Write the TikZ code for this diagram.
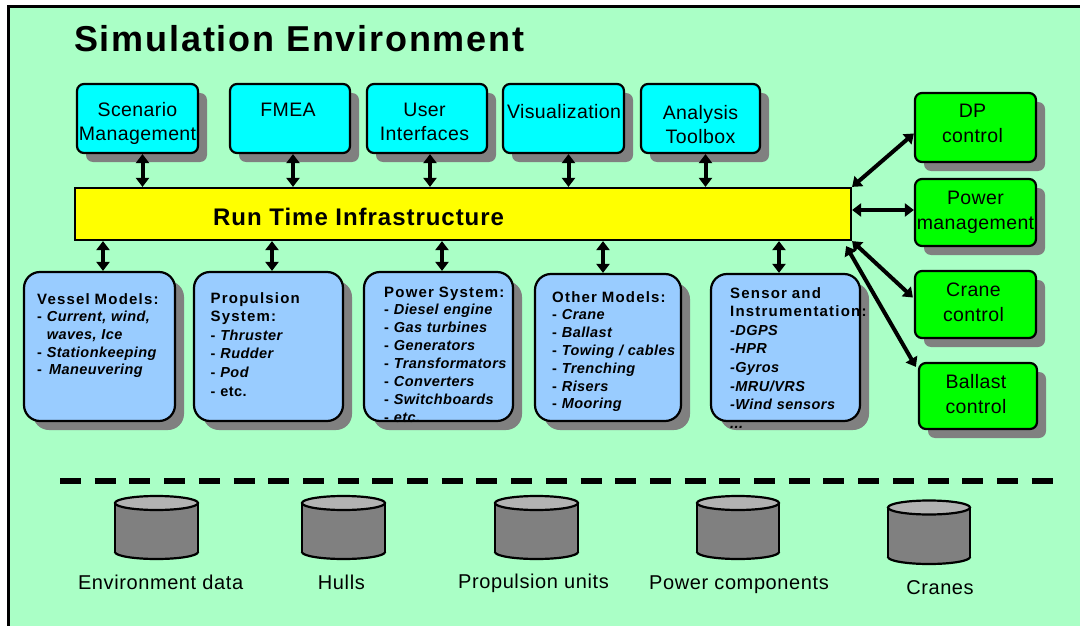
\documentclass[tikz,border=0pt]{standalone}
\usepackage{fontspec}
\setmainfont{Liberation Sans}
\newfontfamily\titlefam[LetterSpace=5]{Liberation Sans}
\newfontfamily\barfam[LetterSpace=4]{Liberation Sans}
\newfontfamily\boxfam[LetterSpace=2]{Liberation Sans}
\newfontfamily\headfam[LetterSpace=8]{Liberation Sans}
\newfontfamily\itemfam[LetterSpace=3]{Liberation Sans}
\usetikzlibrary{arrows.meta,shadows,calc}

\definecolor{mint}{RGB}{170,255,198}
\definecolor{modcyan}{RGB}{0,255,255}
\definecolor{ctrlgreen}{RGB}{0,255,0}
\definecolor{rtiyellow}{RGB}{255,255,0}
\definecolor{modelblue}{RGB}{153,204,255}
\definecolor{shade}{RGB}{128,128,128}
\definecolor{cyltop}{RGB}{178,178,178}
\definecolor{cylbody}{RGB}{128,128,128}

\tikzset{
  boxshadow/.style={drop shadow={shadow xshift=9pt,shadow yshift=-9pt,fill=shade,opacity=1}},
  toolbox/.style={draw,line width=2.2pt,fill=modcyan,rounded corners=7pt,inner sep=0pt,boxshadow},
  ctrlbox/.style={draw,line width=2.2pt,fill=ctrlgreen,rounded corners=7pt,inner sep=0pt,boxshadow},
  modelbox/.style={draw,line width=2.2pt,fill=modelblue,rounded corners=16pt,inner sep=0pt,boxshadow},
  toollabel/.style={anchor=base,inner sep=0pt,text width=160pt,align=center,
    font=\boxfam\fontsize{19.5}{24}\selectfont},
  ctrllabel/.style={inner sep=0pt,text width=160pt,align=center,
    font=\boxfam\fontsize{19.5}{25}\selectfont},
  modeltext/.style={anchor=base west,inner sep=0pt,text width=170pt,align=left,
    font=\itemfam\bfseries\fontsize{14.5}{#1}\selectfont},
  link/.style={{Triangle[width=13pt,length=9pt]}-{Triangle[width=13pt,length=9pt]},line width=4pt},
  storelabel/.style={anchor=base,inner sep=0pt,font=\itemfam\fontsize{20}{24}\selectfont},
}
\newcommand\headf{\headfam\bfseries\fontsize{15}{18}\selectfont}

% data store drawn as a cylinder: centre x, top ellipse y, bottom ellipse y, half width
\newcommand\datastore[4]{%
  \fill[cylbody] (#1-#4,#2) rectangle (#1+#4,#3);
  \begin{scope}
    \clip (#1-#4-3,#3) rectangle (#1+#4+3,#3+12);
    \filldraw[fill=cylbody,draw=black,line width=2.2pt] (#1,#3) ellipse [x radius=#4,y radius=7];
  \end{scope}
  \draw[line width=2.2pt] (#1-#4,#2) -- (#1-#4,#3) (#1+#4,#2) -- (#1+#4,#3);
  \filldraw[fill=cyltop,draw=black,line width=2.2pt] (#1,#2) ellipse [x radius=#4,y radius=7];
}

\begin{document}
\begin{tikzpicture}[x=1pt,y=-1pt]
\useasboundingbox (0,0) rectangle (1080,626);
\fill[white] (0,0) rectangle (1080,626);
\fill[mint] (8,7) rectangle (1080,626);
\draw[line width=3pt] (8,626) -- (8,7) -- (1080,7);

\node[anchor=base west,inner sep=0pt,font=\titlefam\bfseries\fontsize{36}{40}\selectfont]
  (title) at (74,51.6) {Simulation Environment};

% tools above the run time infrastructure
\node[toolbox,minimum width=121pt,minimum height=69pt] (sm) at (137.5,118.5) {};
\node[toolbox,minimum width=120pt,minimum height=69pt] (fmea) at (290,118.5) {};
\node[toolbox,minimum width=120pt,minimum height=69pt] (ui) at (427,118.5) {};
\node[toolbox,minimum width=121pt,minimum height=69pt] (vis) at (563.5,118.5) {};
\node[toolbox,minimum width=119pt,minimum height=69pt] (atb) at (700.5,118.5) {};

\node[toollabel] (smtext) at (137.5,117) {Scenario\\Management};
\node[toollabel] (fmeatext) at (288,117) {FMEA};
\node[toollabel] (uitext) at (424.5,117) {User\\Interfaces};
\node[toollabel] (vistext) at (564,118) {Visualization};
\node[toollabel] (atbtext) at (700.5,120) {Analysis\\Toolbox};

% run time infrastructure bar
\node[draw,line width=2.2pt,fill=rtiyellow,minimum width=776pt,minimum height=52pt,inner sep=0pt]
  (rti) at (463,214) {};
\node[anchor=base west,inner sep=0pt,font=\barfam\bfseries\fontsize{24}{28}\selectfont]
  (rtitext) at (213,225) {Run Time Infrastructure};

% control systems
\node[ctrlbox,minimum width=121pt,minimum height=69pt] (dp) at (975.5,127.5) {};
\node[ctrlbox,minimum width=121pt,minimum height=67pt] (pm) at (975.5,212.5) {};
\node[ctrlbox,minimum width=121pt,minimum height=67pt] (cc) at (975.5,304.5) {};
\node[ctrlbox,minimum width=118pt,minimum height=66pt] (bc) at (978,396) {};

\node[ctrllabel] (dptext) at ($(dp)+(-3,-4)$) {DP\\control};
\node[ctrllabel] (pmtext) at ($(pm)+(0,0)$) {Power\\management};
\node[ctrllabel] (cctext) at ($(cc)+(-2,-2)$) {Crane\\control};
\node[ctrllabel] (bctext) at ($(bc)+(-2,-2)$) {Ballast\\control};

% simulation models
\node[modelbox,minimum width=151pt,minimum height=149pt] (vm) at (99.5,346.5) {};
\node[modelbox,minimum width=149pt,minimum height=149pt] (ps) at (268.5,346.5) {};
\node[modelbox,minimum width=149pt,minimum height=149pt] (pw) at (438.5,346.5) {};
\node[modelbox,minimum width=146pt,minimum height=147pt] (om) at (608,347.5) {};
\node[modelbox,minimum width=149pt,minimum height=147pt] (se) at (785.5,347.5) {};

\node[modeltext=17.7] (vmtext) at (37,304) {{\headf Vessel Models:}\\
  - \textit{Current, wind,}\\
  \phantom{- }\textit{waves, Ice}\\
  - \textit{Stationkeeping}\\
  -\hspace{7pt}\textit{Maneuvering}};
\node[modeltext=18.6] (pstext) at (210.5,303) {{\headf Propulsion}\\
  {\headf System:}\\
  - \textit{Thruster}\\
  - \textit{Rudder}\\
  - \textit{Pod}\\
  - etc.};
\node[modeltext=17.9] (pwtext) at (384,297) {{\headf Power System:}\\
  - \textit{Diesel engine}\\
  - \textit{Gas turbines}\\
  - \textit{Generators}\\
  - \textit{Transformators}\\
  - \textit{Converters}\\
  - \textit{Switchboards}\\
  - \textit{etc.}};
\node[modeltext=17.8] (omtext) at (552,302) {{\headf Other Models:}\\
  - \textit{Crane}\\
  - \textit{Ballast}\\
  - \textit{Towing / cables}\\
  - \textit{Trenching}\\
  - \textit{Risers}\\
  - \textit{Mooring}};
\node[modeltext=18.6] (setext) at (730,298) {{\headf Sensor and}\\
  {\headf Instrumentation:}\\
  \textit{-DGPS}\\
  \textit{-HPR}\\
  \textit{-Gyros}\\
  \textit{-MRU/VRS}\\
  \textit{-Wind sensors}\\
  \textit{...}};

% connections
\foreach \b/\dx in {sm/5,fmea/3,ui/3,vis/5,atb/5}
  \draw[link] ([xshift=\dx pt]\b.south) -- ([xshift=\dx pt]\b.south |- rti.north);
\foreach \b/\dx in {vm/3.5,ps/3.5,pw/3.5,om/-5,se/-6.5}
  \draw[link] ([xshift=\dx pt]\b.north |- rti.south) -- ([xshift=\dx pt]\b.north);

\draw[link] (rti.north east) -- ($(dp.west)+(0,6)$);
\draw[link] (rti.east |- 0,210) -- (pm.west |- 0,210);
\draw[link] (rti.south east) -- ($(cc.west)+(-1,-7)$);
\draw[link] ($(rti.south east)+(-6,5)$) -- ($(bc.north west)+(-2,5)$);

% separator between the run-time models and the data bases
\draw[line width=6pt,dash pattern=on 21pt off 13.7pt] (60,481) -- (1053,481);

% data bases
\datastore{156.5}{503}{552}{41.5}
\datastore{343.5}{503}{552}{41.5}
\datastore{536.5}{503}{552}{41.5}
\datastore{738}{503}{552}{41}
\datastore{929}{507.5}{557}{41}

\node[storelabel] (envtext) at (160.6,589) {Environment data};
\node[storelabel] (hullstext) at (341.4,589) {Hulls};
\node[storelabel] (proptext) at (533.5,588) {Propulsion units};
\node[storelabel] (powtext) at (739,589) {Power components};
\node[storelabel] (cranetext) at (940,594.5) {Cranes};
\end{tikzpicture}
\end{document}
